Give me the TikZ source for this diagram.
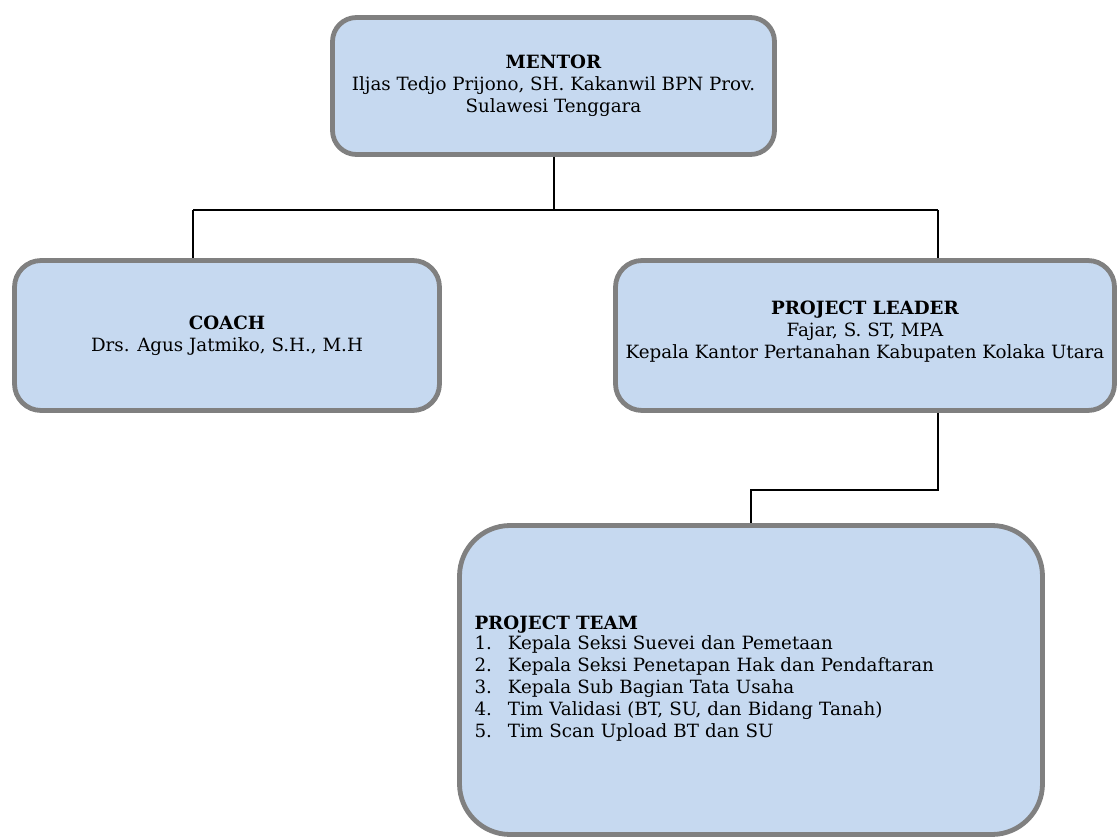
\documentclass[tikz,border=0pt]{standalone}
\usepackage{fontspec}
\setmainfont{DejaVu Serif}
\usepackage{tikz}
\usepackage{xcolor}
\usetikzlibrary{positioning,calc}
\definecolor{orgfill}{RGB}{198,217,240}
\definecolor{orgedge}{RGB}{128,128,128}
\tikzset{
  orgbox/.style={draw=orgedge, line width=3.6pt, fill=orgfill, align=center, font=\fontsize{13.7}{16.5}\selectfont},
  link/.style={line width=1.5pt, black}
}
\begin{document}
\begin{tikzpicture}[x=0.75pt, y=-0.75pt]
        \useasboundingbox (0,0) rectangle (1118,838);
        \node[orgbox, minimum width=442*0.75pt, minimum height=137*0.75pt, rounded corners=18pt] (mentor) at (553.5,86)
          {\textbf{MENTOR}\\Iljas Tedjo Prijono, SH. Kakanwil BPN Prov.\\Sulawesi Tenggara};
        \node[orgbox, minimum width=425*0.75pt, minimum height=150*0.75pt, rounded corners=20pt] (coach) at (227,335.5)
          {\textbf{COACH}\\Drs. Agus Jatmiko, S.H., M.H};
        \node[orgbox, minimum width=499*0.75pt, minimum height=150*0.75pt, rounded corners=20pt] (leader) at (865,335.5)
          {\textbf{PROJECT LEADER}\\Fajar, S. ST, MPA\\Kepala Kantor Pertanahan Kabupaten Kolaka Utara\\[-8pt]};
        \node[orgbox, minimum width=583*0.75pt, minimum height=309*0.75pt, rounded corners=38pt, text width=553*0.75pt, align=left] (team) at (751,680)
          {\textbf{PROJECT TEAM}\\[-0.5pt]
           \begin{tabular}{@{}l@{\hspace{12pt}}l@{}}
           1. & Kepala Seksi Suevei dan Pemetaan\\
           2. & Kepala Seksi Penetapan Hak dan Pendaftaran\\
           3. & Kepala Sub Bagian Tata Usaha\\
           4. & Tim Validasi (BT, SU, dan Bidang Tanah)\\
           5. & Tim Scan Upload BT dan SU
           \end{tabular}\\[18pt]};
        % bus lines
        \coordinate (busL) at (193,210);
        \coordinate (busR) at (938,210);
        \draw[link] (mentor.south) -- (mentor.south |- busL);
        \draw[link] (busL) -- (busR);
        \draw[link] (busL) -- (busL |- coach.north);
        \draw[link] (busR) -- (busR |- leader.north);
        \draw[link] (busR |- leader.south) -- (busR |- 0,490) -| (team.north);
      \end{tikzpicture}
\end{document}
